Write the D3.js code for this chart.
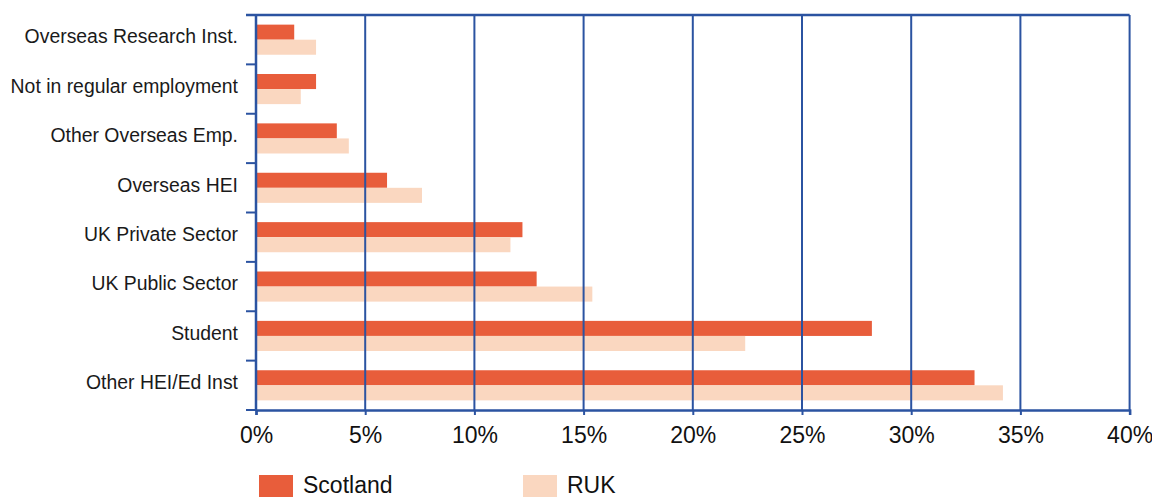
<!DOCTYPE html>
<html>
<head>
<meta charset="utf-8">
<script src="https://cdn.jsdelivr.net/npm/d3@7"></script>
<style>
  html, body { margin: 0; padding: 0; background: #fff; }
  svg { display: block; font-family: "Liberation Sans", Arial, Helvetica, sans-serif; }
</style>
</head>
<body>
<svg id="chart" width="1152" height="497"></svg>
<script>
// Destinations of leavers, share by region (%)
const categories = [
  "Overseas Research Inst.",
  "Not in regular employment",
  "Other Overseas Emp.",
  "Overseas HEI",
  "UK Private Sector",
  "UK Public Sector",
  "Student",
  "Other HEI/Ed Inst"
];
const seriesNames = ["Scotland", "RUK"];
const scotland = [1.75, 2.75, 3.7, 6.0, 12.2, 12.85, 28.2, 32.9];
const ruk      = [2.75, 2.05, 4.25, 7.6, 11.65, 15.4, 22.4, 34.2];
const xTicks = [0, 5, 10, 15, 20, 25, 30, 35, 40];

const colors = { Scotland: "#E85D3B", RUK: "#FAD7C0" };
const axisColor = "#2B53A1";

const svg = d3.select("#chart");
const W = 1152, H = 497;
const margin = { left: 256, right: W - 1129.6, top: 15, bottom: H - 410 };

const x = d3.scaleLinear().domain([0, 40]).range([margin.left, W - margin.right]);
const y = d3.scaleBand().domain(categories)
  .range([margin.top, H - margin.bottom])
  .paddingInner(0.39).paddingOuter(0.195);
const yBand = d3.scaleBand().domain(categories)
  .range([margin.top, H - margin.bottom]).padding(0);
const ySub = d3.scaleBand().domain(seriesNames).range([0, y.bandwidth()]);

const rows = categories.map((c, i) => ({ cat: c, Scotland: scotland[i], RUK: ruk[i] }));

// Bars
const g = svg.append("g");
rows.forEach(r => {
  seriesNames.forEach(s => {
    g.append("rect")
      .attr("x", x(0))
      .attr("y", y(r.cat) + ySub(s))
      .attr("width", x(r[s]) - x(0))
      .attr("height", ySub.bandwidth())
      .attr("fill", colors[s]);
  });
});

// Vertical gridlines (including the right border)
svg.append("g").selectAll("line").data(xTicks.slice(1)).join("line")
  .attr("x1", d => x(d)).attr("x2", d => x(d))
  .attr("y1", margin.top).attr("y2", H - margin.bottom)
  .attr("stroke", axisColor).attr("stroke-width", 2);

// Top border
svg.append("line")
  .attr("x1", x(0) - 10).attr("x2", x(40))
  .attr("y1", margin.top).attr("y2", margin.top)
  .attr("stroke", axisColor).attr("stroke-width", 2.5);

// Y axis with ticks at category boundaries
const bounds = categories.map(c => yBand(c)).concat([H - margin.bottom]);
svg.append("line")
  .attr("x1", x(0)).attr("x2", x(0))
  .attr("y1", margin.top).attr("y2", H - margin.bottom)
  .attr("stroke", axisColor).attr("stroke-width", 2.5);
svg.append("g").selectAll("line").data(bounds.slice(1)).join("line")
  .attr("x1", x(0) - 10).attr("x2", x(0))
  .attr("y1", d => d).attr("y2", d => d)
  .attr("stroke", axisColor).attr("stroke-width", 2);

// Category labels
svg.append("g").selectAll("text").data(categories).join("text")
  .attr("x", 238)
  .attr("y", d => yBand(d) + yBand.bandwidth() / 2 - 3)
  .attr("dy", "0.35em")
  .attr("text-anchor", "end")
  .attr("font-size", 19.4)
  .attr("fill", "#1a1a1a")
  .text(d => d);

// X axis
const xAxis = d3.axisBottom(x).tickValues(xTicks).tickSize(5).tickPadding(12)
  .tickFormat(d => d + "%");
const xg = svg.append("g")
  .attr("transform", `translate(0,${H - margin.bottom})`)
  .call(xAxis);
xg.select(".domain").attr("stroke", axisColor).attr("stroke-width", 2.5);
xg.selectAll(".tick line").attr("stroke", axisColor).attr("stroke-width", 2);
xg.selectAll(".tick text")
  .attr("font-size", 23)
  .attr("font-family", "'Liberation Sans', Arial, sans-serif")
  .attr("fill", "#111");

// Legend
const legendItems = [
  { name: "Scotland", x: 259 },
  { name: "RUK", x: 523 }
];
const lg = svg.append("g");
legendItems.forEach(it => {
  lg.append("rect")
    .attr("x", it.x).attr("y", 475)
    .attr("width", 34).attr("height", 22)
    .attr("fill", colors[it.name]);
  lg.append("text")
    .attr("x", it.x + 44).attr("y", 493)
    .attr("font-size", 23)
    .attr("fill", "#111")
    .text(it.name);
});
</script>
</body>
</html>
